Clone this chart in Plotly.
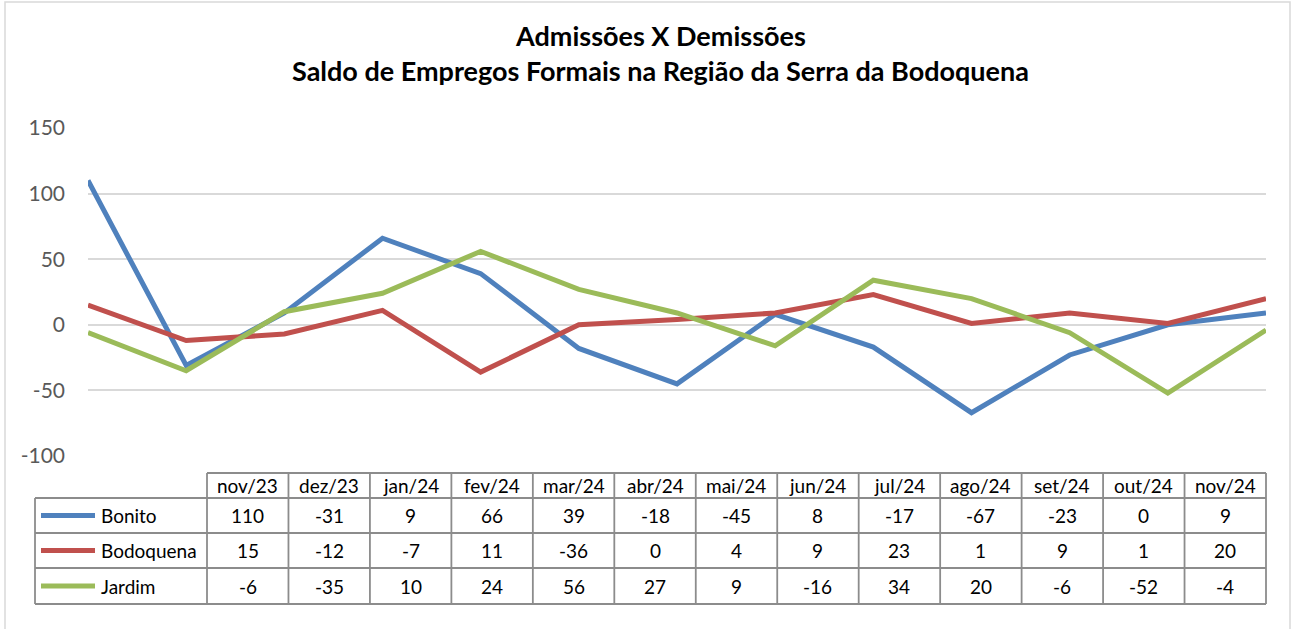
import plotly.graph_objects as go

# ---- data ----
months = ["nov/23", "dez/23", "jan/24", "fev/24", "mar/24", "abr/24", "mai/24",
          "jun/24", "jul/24", "ago/24", "set/24", "out/24", "nov/24"]
bonito = [110, -31, 9, 66, 39, -18, -45, 8, -17, -67, -23, 0, 9]
bodoquena = [15, -12, -7, 11, -36, 0, 4, 9, 23, 1, 9, 1, 20]
jardim = [-6, -35, 10, 24, 56, 27, 9, -16, 34, 20, -6, -52, -4]
series_names = ["Bonito", "Bodoquena", "Jardim"]
series_values = [bonito, bodoquena, jardim]
colors = ["#4F81BD", "#C0504D", "#9BBB59"]
y_ticks = [-100, -50, 0, 50, 100, 150]
y_tick_text = ["-100", "-50", "0", "50", "100", "150"]

# ---- layout geometry (pixels) ----
W, H = 1298, 629
PL, PR, PT, PB = 88, 1266, 128, 456   # plot area box
FONT = "Lato"

def fx(px):
    return (px - PL) / (PR - PL)

def fy(py):
    return (PB - py) / (PB - PT)

fig = go.Figure()
for name, vals, col in zip(series_names, series_values, colors):
    fig.add_trace(go.Scatter(x=list(range(len(months))), y=vals, mode="lines",
                             name=name, line=dict(color=col, width=5),
                             showlegend=False, hoverinfo="x+y+name"))

shapes = []
annotations = []

# outer chart border
shapes.append(dict(type="rect", xref="paper", yref="paper",
                   x0=fx(5), x1=fx(1290), y0=fy(640), y1=fy(2),
                   line=dict(color="#D9D9D9", width=1.5), layer="below"))

# data table
tbl_left, tbl_col0, tbl_right = 35, 207, 1266
row_y = [473, 498, 533, 568, 604]
ncol = len(months)
colw = (tbl_right - tbl_col0) / ncol
grid_col = "#8C8C8C"
lw = 1.8

def hline(py, x0, x1):
    shapes.append(dict(type="line", xref="paper", yref="paper",
                       x0=fx(x0), x1=fx(x1), y0=fy(py), y1=fy(py),
                       line=dict(color=grid_col, width=lw)))

def vline(px, y0, y1):
    shapes.append(dict(type="line", xref="paper", yref="paper",
                       x0=fx(px), x1=fx(px), y0=fy(y0), y1=fy(y1),
                       line=dict(color=grid_col, width=lw)))

hline(row_y[0], tbl_col0, tbl_right)
for py in row_y[1:]:
    hline(py, tbl_left, tbl_right)
vline(tbl_left, row_y[1], row_y[-1])
for i in range(ncol + 1):
    vline(tbl_col0 + i * colw, row_y[0], row_y[-1])

TFS = 19
for i, m in enumerate(months):
    cx = tbl_col0 + (i + 0.5) * colw
    annotations.append(dict(x=fx(cx), y=fy((row_y[0] + row_y[1]) / 2),
                            xref="paper", yref="paper", text=m, showarrow=False,
                            font=dict(family=FONT, size=TFS, color="#000000"),
                            xanchor="center", yanchor="middle"))
for r, (name, vals, col) in enumerate(zip(series_names, series_values, colors)):
    cy = (row_y[r + 1] + row_y[r + 2]) / 2
    shapes.append(dict(type="line", xref="paper", yref="paper",
                       x0=fx(41), x1=fx(95), y0=fy(cy), y1=fy(cy),
                       line=dict(color=col, width=5)))
    annotations.append(dict(x=fx(99), y=fy(cy), xref="paper", yref="paper",
                            text=name, showarrow=False,
                            font=dict(family=FONT, size=TFS, color="#000000"),
                            xanchor="left", yanchor="middle"))
    for i, v in enumerate(vals):
        cx = tbl_col0 + (i + 0.5) * colw
        annotations.append(dict(x=fx(cx), y=fy(cy), xref="paper", yref="paper",
                                text=str(v), showarrow=False,
                                font=dict(family=FONT, size=TFS, color="#000000"),
                                xanchor="center", yanchor="middle"))

# title
annotations.append(dict(x=fx(660), y=fy(35), xref="paper", yref="paper",
                        text="<b>Admissões X Demissões</b>", showarrow=False,
                        font=dict(family=FONT, size=27, color="#000000"),
                        xanchor="center", yanchor="middle"))
annotations.append(dict(x=fx(660), y=fy(71), xref="paper", yref="paper",
                        text="<b>Saldo de Empregos Formais na Região da Serra da Bodoquena</b>",
                        showarrow=False,
                        font=dict(family=FONT, size=27, color="#000000"),
                        xanchor="center", yanchor="middle"))

fig.update_layout(
    width=W, height=H,
    margin=dict(l=PL, r=W - PR, t=PT, b=H - PB, pad=0),
    paper_bgcolor="white", plot_bgcolor="white",
    shapes=shapes, annotations=annotations,
    xaxis=dict(range=[0, len(months) - 1], showgrid=False, zeroline=False,
               showticklabels=False, showline=False, ticks=""),
    yaxis=dict(range=[-100, 150], tickvals=y_ticks, ticktext=y_tick_text,
               showgrid=True, gridcolor="#D9D9D9", gridwidth=1.5, zeroline=False,
               showline=False, ticks="", ticklabelstandoff=22,
               tickfont=dict(family=FONT, size=21, color="#595959")),
    font=dict(family=FONT),
)

fig.write_html("out.html", config={"displayModeBar": False},
               post_script="document.body.style.margin='0';document.body.style.overflow='hidden';")
